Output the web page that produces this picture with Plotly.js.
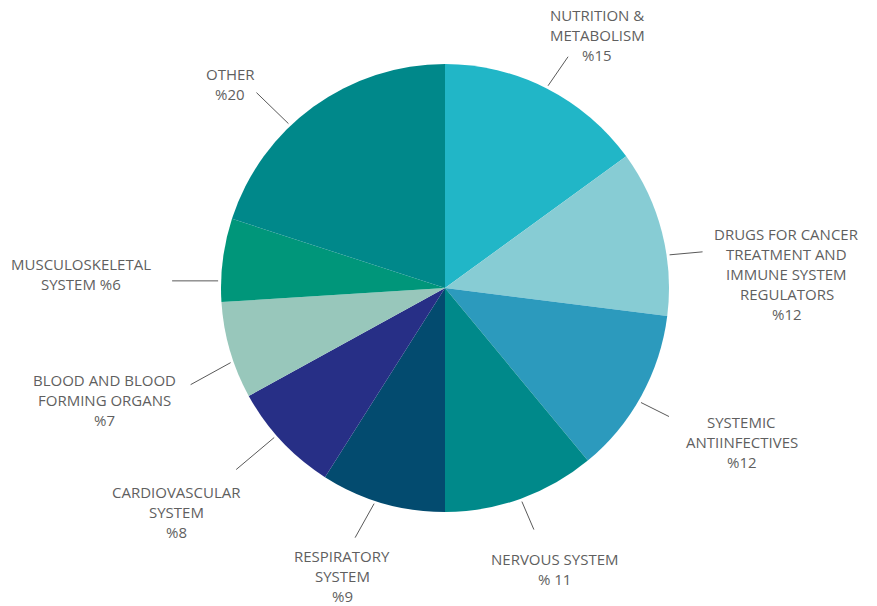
<!DOCTYPE html>
<html>
<head>
<meta charset="utf-8">
<script src="https://cdn.plot.ly/plotly-3.0.1.min.js"></script>
<style>html,body{margin:0;padding:0;background:#fff;}#chart{width:877px;height:606px;}</style>
</head>
<body>
<div id="chart"></div>
<script>
// ---- data ----
const categories = ['Nutrition & Metabolism','Drugs for Cancer Treatment and Immune System Regulators','Systemic Antiinfectives','Nervous System','Respiratory System','Cardiovascular System','Blood and Blood Forming Organs','Musculoskeletal System','Other'];
const values = [15, 12, 12, 11, 9, 8, 7, 6, 20];
const labelLines = [
  ['NUTRITION &','METABOLISM','%15'],
  ['DRUGS FOR CANCER','TREATMENT AND','IMMUNE SYSTEM','REGULATORS','%12'],
  ['SYSTEMIC','ANTIINFECTIVES','%12'],
  ['NERVOUS SYSTEM','% 11'],
  ['RESPIRATORY','SYSTEM','%9'],
  ['CARDIOVASCULAR','SYSTEM','%8'],
  ['BLOOD AND BLOOD','FORMING ORGANS','%7'],
  ['MUSCULOSKELETAL','SYSTEM %6'],
  ['OTHER','%20']
];
const colors = ['#21b6c7','#87ccd4','#2c9abd','#00898a','#034b6f','#272f86','#98c7bb','#00967a','#00888a'];

// ---- layout / style config ----
const W = 877, H = 606;
const CX = 445, CY = 288, R = 224;
// leader-line angle tweak (deg), line vector (px), text offset from line end (px)
const angleTweak = [0, 6, 1.5, 0, 2, 2, -3, -5.4, -7.6];
const lineVec = [[20,-29],[33,-3],[28,14],[12,28],[-19,34],[-38,32],[-40,22],[-46,0],[-32,-31]];
const textOff = [[29,-22],[84,22],[73,25],[21,39],[-13,38],[-60,42],[-86,15],[-91,-7],[-26,-9]];
const LINE_H = 20;
const textFont = {family:'"Open Sans", "Segoe UI", sans-serif', size:15, color:'#5f5f5f'};

const px = x => x / W;
const py = y => 1 - y / H;

const total = values.reduce((a,b)=>a+b,0);
const shapes = [], annotations = [];
let cum = 0;
values.forEach((v,i)=>{
  const mid = (cum + v/2) / total * 360 + angleTweak[i];
  cum += v;
  const a = mid * Math.PI/180;
  const sx = CX + (R+3)*Math.sin(a), sy = CY - (R+3)*Math.cos(a);
  const ex = sx + lineVec[i][0], ey = sy + lineVec[i][1];
  shapes.push({type:'line', xref:'paper', yref:'paper', x0:px(sx), y0:py(sy), x1:px(ex), y1:py(ey), line:{color:'#595959', width:1}});
  const tx = ex + textOff[i][0], ty = ey + textOff[i][1];
  const lines = labelLines[i];
  lines.forEach((t,k)=>{
    const ly = ty + (k - (lines.length-1)/2) * LINE_H;
    annotations.push({xref:'paper', yref:'paper', x:px(tx), y:py(ly), xanchor:'center', yanchor:'middle', text:t, showarrow:false, font:textFont});
  });
});

const trace = {
  type:'pie',
  labels: categories,
  values: values,
  sort:false,
  direction:'clockwise',
  rotation:0,
  textinfo:'none',
  hoverinfo:'label+percent',
  marker:{colors:colors, line:{width:0}},
  domain:{x:[px(CX-R), px(CX+R)], y:[py(CY+R), py(CY-R)]},
  showlegend:false
};

Plotly.newPlot('chart',[trace],{
  width:W, height:H,
  margin:{l:0,r:0,t:0,b:0},
  paper_bgcolor:'#fff',
  showlegend:false,
  shapes:shapes,
  annotations:annotations
},{staticPlot:true});
</script>
</body>
</html>
